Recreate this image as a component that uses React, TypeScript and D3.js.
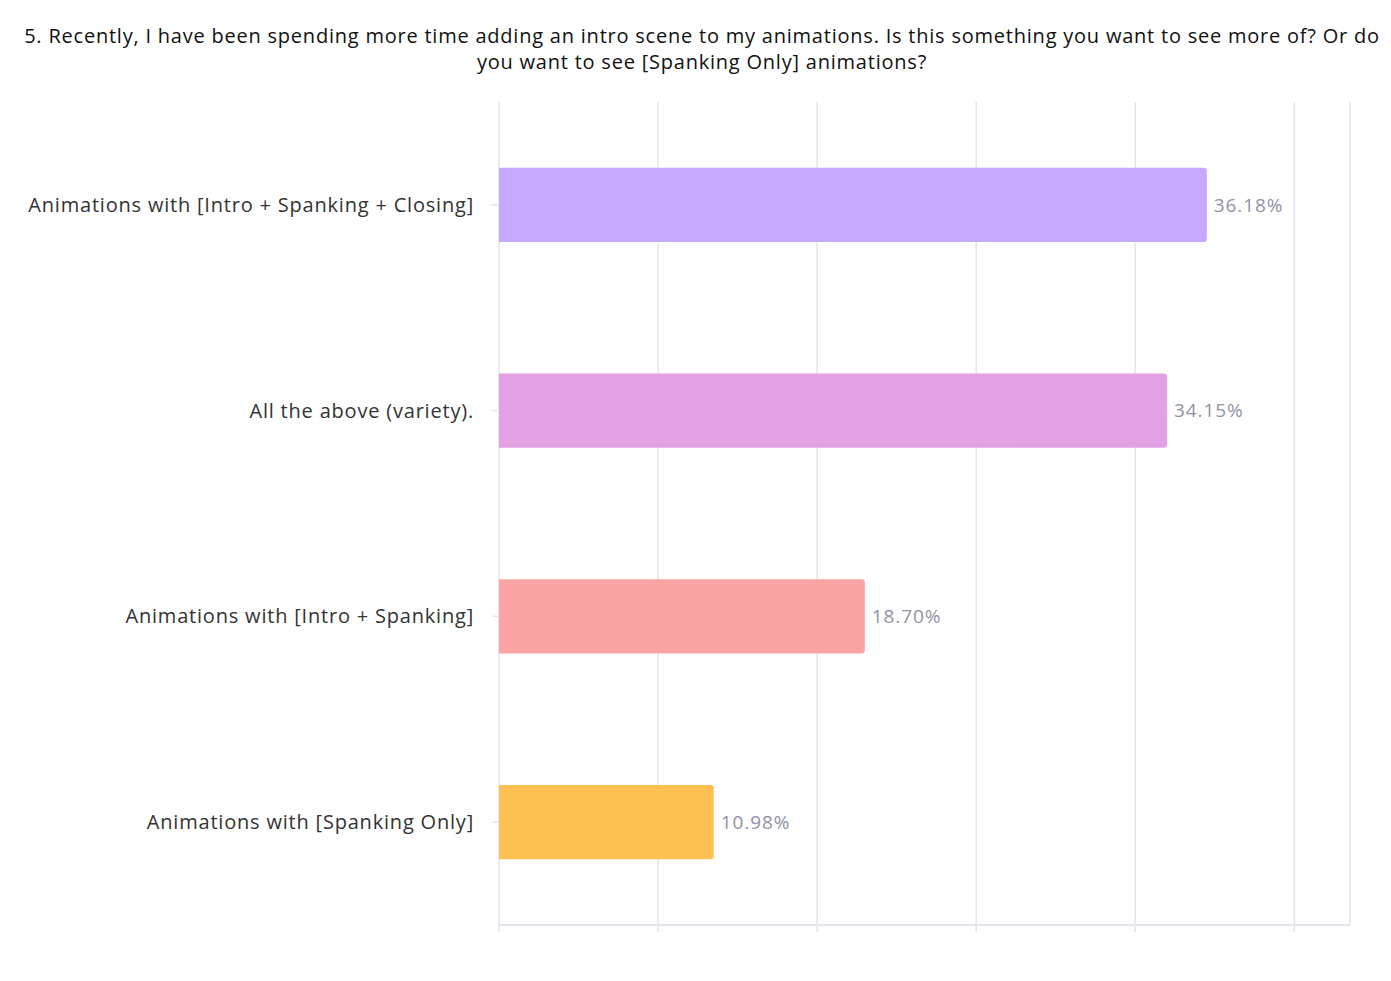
import * as React from 'react'
import * as d3 from 'd3'

const width = 1391
const height = 981
const margin = { top: 102, right: 41, bottom: 56, left: 499 }

const titleLines = [
  '5. Recently, I have been spending more time adding an intro scene to my animations. Is this something you want to see more of? Or do',
  'you want to see [Spanking Only] animations?',
]
const categories = [
  'Animations with [Intro + Spanking + Closing]',
  'All the above (variety).',
  'Animations with [Intro + Spanking]',
  'Animations with [Spanking Only]',
]
const counts = [89, 84, 46, 27]
const total = 246
const colors = ['#c6a9fd', '#e3a0e3', '#fca4a4', '#fdc051']
const tickValues = [0, 20, 40, 60, 80, 100]
const xMax = 107

const gridColor = '#e4e3ee'
const font = '"Open Sans", sans-serif'

const App = () => {
  const xScale = d3
    .scaleLinear()
    .domain([0, xMax])
    .range([margin.left, width - margin.right])
  const yScale = d3
    .scaleBand()
    .domain(categories)
    .range([margin.top, height - margin.bottom])
    .paddingInner(0.64)
    .paddingOuter(0.32)

  const bottom = height - margin.bottom
  const r = 3

  const barPath = (v: number, c: string) => {
    const x0 = xScale(0)
    const x1 = xScale(v)
    const y0 = yScale(c)!
    const y1 = y0 + yScale.bandwidth()
    return `M${x0},${y0}H${x1 - r}Q${x1},${y0} ${x1},${y0 + r}V${y1 - r}Q${x1},${y1} ${x1 - r},${y1}H${x0}Z`
  }

  return (
    <svg
      width={width}
      height={height}
      style={{ position: 'absolute', left: 0, top: 0, background: '#fff' }}
    >
      {titleLines.map((t, i) => (
        <text
          key={i}
          x={702}
          y={43 + i * 26}
          textAnchor="middle"
          fontFamily={font}
          fontSize={20}
          letterSpacing={0.78}
          fill="#111"
        >
          {t}
        </text>
      ))}

      {tickValues.map(t => (
        <line
          key={t}
          x1={xScale(t)}
          x2={xScale(t)}
          y1={margin.top}
          y2={bottom + 7}
          stroke={gridColor}
          strokeWidth={1.5}
        />
      ))}
      <line
        x1={xScale(xMax)}
        x2={xScale(xMax)}
        y1={margin.top}
        y2={bottom}
        stroke={gridColor}
        strokeWidth={1.5}
      />
      <line
        x1={xScale(0)}
        x2={xScale(xMax)}
        y1={bottom}
        y2={bottom}
        stroke={gridColor}
        strokeWidth={2}
      />

      {categories.map((c, i) => {
        const cy = yScale(c)! + yScale.bandwidth() / 2
        return (
          <g key={c}>
            <line
              x1={xScale(0) - 7}
              x2={xScale(0)}
              y1={cy}
              y2={cy}
              stroke={gridColor}
              strokeWidth={1.5}
            />
            <path d={barPath(counts[i], c)} fill={colors[i]} />
            <text
              x={xScale(0) - 25}
              y={cy}
              dy="0.35em"
              textAnchor="end"
              fontFamily={font}
              fontSize={20}
              letterSpacing={0.8}
              fill="#333"
            >
              {c}
            </text>
            <text
              x={xScale(counts[i]) + 7}
              y={cy}
              dy="0.35em"
              fontFamily={font}
              fontSize={19}
              letterSpacing={0.9}
              fill="#9191a8"
            >
              {((counts[i] / total) * 100).toFixed(2)}%
            </text>
          </g>
        )
      })}
    </svg>
  )
}

export default App
